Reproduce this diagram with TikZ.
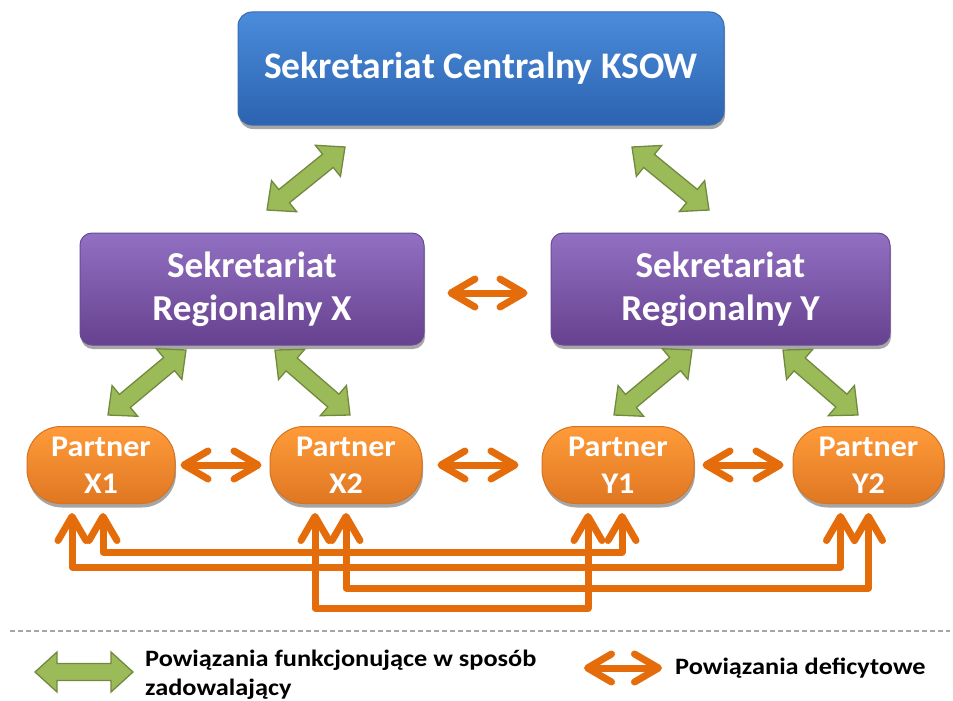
\documentclass[tikz,border=0pt]{standalone}
\usepackage{fontspec}
\setmainfont{Carlito}
\usetikzlibrary{calc,arrows.meta,shadows}
\definecolor{gfill}{HTML}{9BBB59}
\definecolor{gline}{HTML}{71893F}
\definecolor{orng}{HTML}{E46C0A}
\definecolor{bluetop}{HTML}{4A8CDB}
\definecolor{bluebot}{HTML}{2C63B0}
\definecolor{blueln}{HTML}{3A6AAE}
\definecolor{purtop}{HTML}{9270C2}
\definecolor{purbot}{HTML}{66418F}
\definecolor{purln}{HTML}{6B4A96}
\definecolor{ortop}{HTML}{FF9B3A}
\definecolor{orbot}{HTML}{DF7722}
\definecolor{orln}{HTML}{D5731F}
\tikzset{
  boxshadow/.style={drop shadow={shadow xshift=1pt,shadow yshift=-4pt,opacity=.35,fill=black}},
  topbox/.style={rectangle,rounded corners=14pt,draw=blueln,line width=1pt,top color=bluetop,bottom color=bluebot,
    boxshadow,text=white,font=\fontsize{37.5}{42}\selectfont\bfseries,align=center},
  regbox/.style={rectangle,rounded corners=12pt,draw=purln,line width=1pt,top color=purtop,bottom color=purbot,
    boxshadow,text=white,font=\fontsize{36.5}{43}\selectfont\bfseries\addfontfeatures{FakeStretch=1.02},align=center},
  partbox/.style={rectangle,rounded corners=34pt,draw=orln,line width=1pt,top color=ortop,bottom color=orbot,
    boxshadow,text=white,font=\fontsize{30}{37}\selectfont\bfseries\addfontfeatures{FakeStretch=1.07},align=center,minimum height=77pt},
  oarrow/.style={draw=orng,line width=7pt,line join=round,
    {Straight Barb[length=24pt,width=28pt,round]}-{Straight Barb[length=24pt,width=28pt,round]}},
  garrowstyle/.style={draw=gline,fill=gfill,line width=1.3pt,line join=miter},
  legendtext/.style={inner sep=0pt,font=\fontsize{23.5}{29}\selectfont\bfseries\addfontfeatures{FakeStretch=1.12},align=left,text=black}
}
\newcommand{\garrow}[2]{%
  \coordinate (ha) at ($(#1)!22pt!(#2)$);
  \coordinate (hb) at ($(#2)!22pt!(#1)$);
  \draw[garrowstyle] (#1)
    -- ($(ha)!20pt!90:(#2)$) -- ($(ha)!8.5pt!90:(#2)$)
    -- ($(hb)!8.5pt!-90:(#1)$) -- ($(hb)!20pt!-90:(#1)$)
    -- (#2)
    -- ($(hb)!20pt!90:(#1)$) -- ($(hb)!8.5pt!90:(#1)$)
    -- ($(ha)!8.5pt!-90:(#2)$) -- ($(ha)!20pt!-90:(#2)$)
    -- cycle;}
\begin{document}
\begin{tikzpicture}[x=1pt,y=-1pt]
\useasboundingbox[fill=white] (0,0) rectangle (953,701);
% boxes
\node[topbox,minimum width=486pt,minimum height=113pt] (top) at (481,68.5) {Sekretariat Centralny KSOW};
\node[regbox,minimum width=344pt,minimum height=112pt] (rx) at (252,289) {Sekretariat\\Regionalny X};
\node[regbox,minimum width=339pt,minimum height=112pt] (ry) at (720.5,289) {Sekretariat\\Regionalny Y};
\node[partbox,minimum width=148pt] (x1) at (101,465) {Partner\\X1};
\node[partbox,minimum width=152pt] (x2) at (346,465) {Partner\\X2};
\node[partbox,minimum width=152pt] (y1) at (618,465) {Partner\\Y1};
\node[partbox,minimum width=151pt] (y2) at (868.5,465) {Partner\\Y2};
% green arrow end points
\coordinate (g1a) at (267,210); \coordinate (g1b) at (345,147);
\coordinate (g2a) at (632,147); \coordinate (g2b) at (709,210);
\coordinate (g3a) at (108,415); \coordinate (g3b) at (186,350);
\coordinate (g4a) at (275,350); \coordinate (g4b) at (350,415);
\coordinate (g5a) at (614,415); \coordinate (g5b) at (692,350);
\coordinate (g6a) at (783,350); \coordinate (g6b) at (858,415);
\garrow{g1a}{g1b}
\garrow{g2a}{g2b}
\garrow{g3a}{g3b}
\garrow{g4a}{g4b}
\garrow{g5a}{g5b}
\garrow{g6a}{g6b}
% orange horizontal arrows
\draw[oarrow] ($(rx.east)+(23,4)$) -- ($(ry.west)+(-23,4)$);
\draw[oarrow,shorten <=5pt,shorten >=8pt] (x1) -- (x2);
\draw[oarrow,shorten <=15pt,shorten >=23pt] (x2) -- (y1);
\draw[oarrow,shorten <=8pt,shorten >=9pt] (y1) -- (y2);
% bottom connectors
\coordinate (x1l) at ($(x1.south)+(-29,9)$);
\coordinate (x1r) at ($(x1.south)+(2,9)$);
\coordinate (x2l) at ($(x2.south)+(-31,9)$);
\coordinate (x2r) at ($(x2.south)+(0,9)$);
\coordinate (y1l) at ($(y1.south)+(-30,9)$);
\coordinate (y1r) at ($(y1.south)+(4,9)$);
\coordinate (y2l) at ($(y2.south)+(-28,9)$);
\coordinate (y2r) at ($(y2.south)+(0,9)$);
\draw[oarrow] (x1r) -- (x1r |- 0,552) -- (y1r |- 0,552) -- (y1r);
\draw[oarrow] (x1l) -- (x1l |- 0,567) -- (y2l |- 0,567) -- (y2l);
\draw[oarrow] (x2r) -- (x2r |- 0,588) -- (y2r |- 0,588) -- (y2r);
\draw[oarrow] (x2l) -- (x2l |- 0,608) -- (y1l |- 0,608) -- (y1l);
% separator
\coordinate (sepa) at (10,631); \coordinate (sepb) at (950,631);
\draw[draw=black!35,line width=1.5pt,dash pattern=on 5pt off 3pt] (sepa) -- (sepb);
% legend
\coordinate (lg1) at (35,672); \coordinate (lg2) at (133,672);
\garrow{lg1}{lg2}
\node[legendtext,anchor=north west] (lt1) at (145,650) {Powiązania funkcjonujące w sposób\\zadowalający};
\draw[oarrow] (584,668) coordinate (lo1) -- (662,668) coordinate (lo2);
\node[legendtext,anchor=west] (lt2) at (675,668) {Powiązania deficytowe};
\end{tikzpicture}
\end{document}
